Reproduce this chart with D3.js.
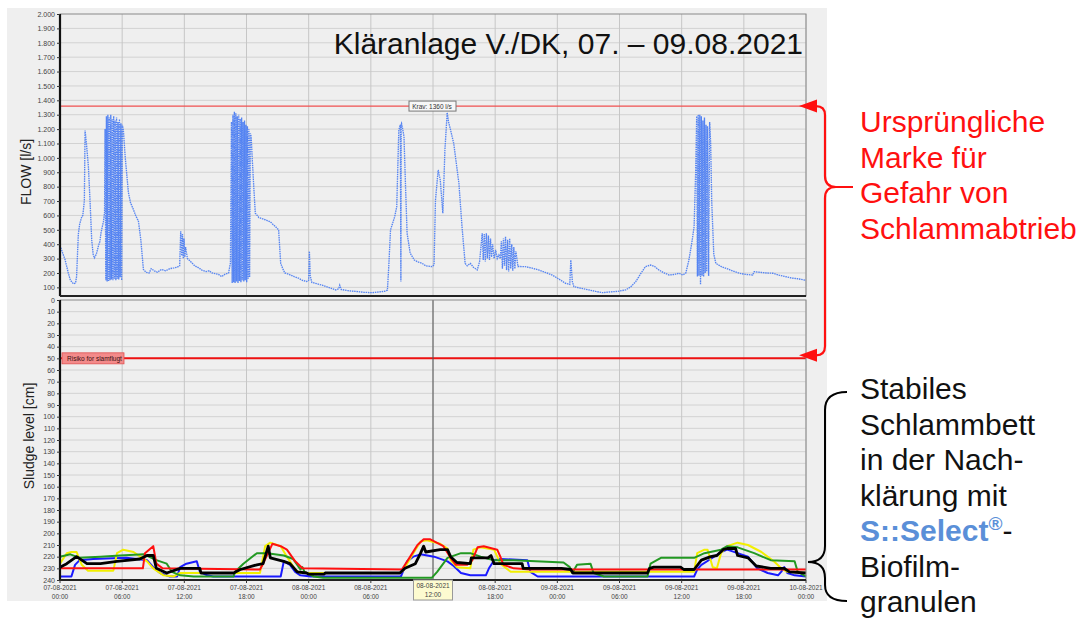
<!DOCTYPE html>
<html>
<head>
<meta charset="utf-8">
<script src="https://cdn.jsdelivr.net/npm/d3@7"></script>
<style>
body { margin:0; background:#fff; }
svg text { font-family: "Liberation Sans", Arial, sans-serif; }
</style>
</head>
<body>
<svg id="chart" width="1079" height="621"></svg>
<script>
// time axis in hours since 07-08-2021 00:00
var hourTicks = [0, 6, 12, 18, 24, 30, 36, 42, 48, 54, 60, 66, 72];
var tickDates = ["07-08-2021","07-08-2021","07-08-2021","07-08-2021","08-08-2021","08-08-2021","08-08-2021",
                 "08-08-2021","09-08-2021","09-08-2021","09-08-2021","09-08-2021","10-08-2021"];
var tickTimes = ["00:00","06:00","12:00","18:00","00:00","06:00","12:00","18:00","00:00","06:00","12:00","18:00","00:00"];

var flowTicks = [100,200,300,400,500,600,700,800,900,1000,1100,1200,1300,1400,1500,1600,1700,1800,1900,2000];
var sludgeTicks = [0,10,20,30,40,50,60,70,80,90,100,110,120,130,140,150,160,170,180,190,200,210,220,230,240];

var kravLevel = 1360;
var risikoLevel = 50;
var cursorHour = 36;

// FLOW [l/s], [hour, value]
var flow = [
 [0.0,390],[0.3,330],[0.5,290],[0.8,200],[1.0,150],[1.3,125],[1.5,130],[1.6,175],[1.77,470],[1.9,540],[2.1,590],[2.2,600],
 [2.35,700],[2.42,1190],[2.55,1100],[2.74,940],[2.9,700],[3.06,430],[3.2,330],[3.32,305],[3.5,330],[3.7,385],[3.85,420],
 [3.96,480],[4.2,560],[4.3,620],
 [4.35,1200],[4.42,150],[4.48,1290],[4.55,140],[4.62,1300],[4.69,145],[4.76,1280],[4.83,150],[4.90,1300],[4.97,155],
 [5.04,1270],[5.11,150],[5.18,1290],[5.25,160],[5.32,1260],[5.39,150],[5.46,1280],[5.53,160],[5.60,1250],[5.67,155],
 [5.74,1270],[5.81,170],[5.88,1240],[5.95,150],[6.02,1230],[6.12,1190],
 [6.3,1000],[6.6,760],[6.8,690],[7.09,640],[7.3,600],[7.57,560],[7.8,430],[8.05,225],[8.3,205],[8.6,200],[8.8,230],
 [9.1,215],[9.4,205],[9.8,225],[10.2,215],[10.6,230],[11.0,235],[11.3,240],[11.55,250],[11.65,490],[11.75,320],
 [11.82,470],[11.9,300],[11.97,440],[12.05,310],[12.12,380],[12.3,300],[12.6,280],[13.0,250],[13.4,235],[13.7,220],
 [14.1,210],[14.4,215],[14.66,200],[15.0,195],[15.3,190],[15.6,175],[15.9,190],[16.27,200],[16.45,270],
 [16.55,1250],[16.62,130],[16.69,1300],[16.76,135],[16.83,1320],[16.9,130],[16.97,1310],[17.04,140],[17.11,1290],
 [17.18,130],[17.25,1300],[17.32,145],[17.39,1270],[17.46,135],[17.53,1280],[17.6,150],[17.67,1250],[17.74,140],
 [17.81,1260],[17.88,150],[17.95,1230],[18.02,135],[18.09,1220],[18.16,160],[18.23,1200],[18.3,170],[18.37,1170],
 [18.45,1150],[18.55,1000],
 [18.7,800],[18.85,615],[19.2,585],[19.8,570],[20.3,555],[20.8,522],[21.1,500],[21.3,267],[21.5,230],[21.7,200],
 [22.1,190],[22.6,175],[23.0,165],[23.36,150],[23.8,140],[24.0,150],[24.07,350],[24.15,180],[24.3,135],[24.8,125],
 [25.3,115],[25.9,100],[26.3,90],[26.6,82],[26.9,90],[27.0,115],[27.15,85],[27.8,77],[28.5,72],[29.3,66],[30.1,63],
 [30.8,68],[31.3,72],[31.6,80],[31.73,244],[31.9,499],[32.1,545],[32.3,590],[32.5,660],[32.7,1193],[32.85,1230],
 [32.9,140],[32.93,1235],[32.96,1240],[33.1,1190],[33.2,1147],[33.35,800],[33.5,476],[33.8,337],[34.2,290],[34.6,275],
 [34.95,267],[35.3,250],[35.9,244],[36.1,255],[36.24,707],[36.5,916],[36.7,846],[36.95,615],[37.15,1055],[37.37,1315],
 [37.5,1250],[37.7,1193],[38.0,1101],[38.5,823],[38.8,522],[39.1,267],[39.3,250],[39.6,267],[39.9,240],[40.27,221],
 [40.5,280],[40.75,476],[40.85,290],[40.95,470],[41.05,280],[41.15,476],[41.25,300],[41.35,460],[41.45,290],[41.55,440],
 [41.65,310],[41.75,400],[41.9,300],[42.05,360],[42.2,300],[42.36,325],[42.5,300],[42.6,420],[42.7,230],[42.8,440],
 [42.9,250],[43.0,453],[43.1,220],[43.2,430],[43.3,210],[43.4,440],[43.5,230],[43.6,400],[43.7,215],[43.8,380],
 [43.9,230],[44.0,350],[44.2,245],[44.9,244],[45.5,235],[46.2,221],[46.8,205],[47.5,186],[48.1,160],[48.8,128],
 [49.2,120],[49.3,290],[49.45,140],[49.6,105],[50.2,95],[51.06,82],[51.7,72],[52.35,63],[53.0,68],[53.8,72],[54.6,82],
 [55.1,105],[55.57,140],[56.0,190],[56.5,244],[57.0,255],[57.4,245],[57.8,221],[58.3,200],[58.8,186],[59.3,190],
 [59.75,198],[60.1,186],[60.4,200],[60.7,290],[61.0,420],[61.2,522],[61.35,900],
 [61.45,1290],[61.52,175],[61.6,1300],[61.67,180],[61.75,1300],[61.82,120],[61.9,1290],[61.97,180],[62.05,1260],
 [62.12,175],[62.2,1280],[62.27,200],[62.35,1230],[62.42,210],[62.5,1220],[62.6,180],[62.7,1250],[62.8,1100],
 [62.9,700],[63.1,330],[63.3,267],[63.8,245],[64.3,232],[64.9,215],[65.55,198],[66.2,190],[66.85,186],[67.0,209],
 [67.5,205],[68.2,200],[68.8,198],[69.4,185],[70.07,174],[70.6,165],[71.2,160],[71.84,151],[72.0,150]
];

// Sludge level [cm], [hour, value]
var sludgeBlack = [[0,229],[0.65,226],[1.6,220],[2.6,226],[3.9,226],[5.5,224],[7.7,222],[8.4,219],[9.0,219],[9.3,230],
 [10.3,234],[11.6,230],[13.5,230],[13.6,234],[16.75,234],[17.4,231],[19.0,227],[19.6,226],[20.1,211],[20.3,221],
 [21.6,224],[22.2,226],[22.9,233],[23.8,234],[24.0,235],[25.5,235],[25.6,234],[32.8,234],[33.3,230],[34.3,226],
 [34.8,217],[35.1,211],[35.3,216],[36.7,214],[37.4,214],[37.7,220],[38.3,225],[39.6,226],[39.7,221],[41.3,221],
 [41.6,219],[41.9,226],[44.6,226],[44.7,230],[48.4,230],[49.3,231],[49.5,234],[56.7,234],[56.9,230],[57.3,229],
 [59.9,229],[60.2,231],[61.2,231],[61.9,223],[62.8,220],[63.4,219],[64.0,214],[64.4,213],[65.2,213],[65.4,219],
 [66.4,221],[67.2,228],[68.6,230],[69.9,230],[70.4,233],[72,234]];
var sludgeRed = [[0,230],[6.4,230],[8.0,230],[8.2,217],[9.0,211],[9.3,226],[9.9,230],[19.3,231],[19.6,226],[20.5,209],
 [21.3,211],[21.9,214],[22.7,224],[23.4,230],[33.0,231],[33.8,220],[34.5,210],[35.1,205],[35.7,205],[37.0,211],
 [37.7,221],[38.2,227],[39.3,227],[39.8,223],[40.3,212],[40.9,211],[42.2,214],[42.5,220],[42.8,227],[43.8,230],
 [45.4,231],[72,231]];
var sludgeGreen = [[0,220],[1.0,218],[1.9,221],[3.9,220],[5.8,219],[8.1,218],[9.3,223],[10.3,226],[10.8,233],[11.6,236],
 [12.9,237],[16.75,237],[16.9,233],[17.7,226],[19.0,217],[20.0,217],[21.6,219],[22.5,222],[23.2,231],[23.4,229],
 [23.6,233],[24.5,237],[25.4,238],[35.9,238],[36.4,233],[37.4,221],[38.7,217],[39.6,217],[40.6,220],[41.9,223],
 [43.8,223],[48.6,225],[49.2,229],[49.45,234],[49.9,227],[51.2,226],[51.5,234],[52.5,237],[56.7,237],[57.0,226],
 [58.0,221],[61.2,221],[62.2,217],[63.8,214],[64.4,211],[65.4,212],[67.0,217],[68.6,223],[70.9,224],[71.2,233],[72,237]];
var sludgeYellow = [[0,226],[0.65,217],[1.1,216],[1.6,216],[2.1,227],[2.7,232],[5.15,232],[5.5,217],[6.1,214],[7.1,216],
 [8.4,224],[9.0,230],[10.0,236],[10.95,237],[11.6,234],[19.3,234],[19.8,211],[20.3,208],[21.3,211],[21.9,220],
 [22.7,231],[23.2,234],[32.8,234],[33.1,232],[34.1,217],[34.8,207],[35.4,206],[36.7,209],[37.4,213],[37.7,223],
 [38.3,229],[39.6,230],[39.9,214],[40.6,212],[41.9,214],[42.5,226],[43.5,233],[61.2,233],[61.5,217],[62.2,214],
 [62.5,214],[63.0,229],[63.4,230],[63.8,217],[64.4,211],[65.4,208],[66.4,210],[67.7,216],[68.9,224],[69.6,230],
 [70.2,233],[72,234]];
var sludgeBlue = [[0,237],[1.1,237],[1.45,227],[1.9,223],[3.2,222],[6.4,221],[8.4,223],[9.0,229],[9.66,234],[10.6,237],
 [11.3,237],[11.6,229],[12.2,226],[13.2,224],[13.5,233],[14.2,236],[14.8,237],[21.3,237],[21.6,224],[22.2,227],
 [22.7,233],[23.2,236],[24.2,237],[32.9,237],[33.5,224],[34.1,220],[34.8,218],[36.1,220],[37.4,224],[38.0,228],
 [38.7,234],[39.6,236],[41.1,236],[41.4,230],[41.9,223],[42.5,222],[45.1,223],[45.4,233],[46.1,237],[61.2,237],
 [61.5,231],[61.9,227],[62.8,222],[63.8,216],[64.4,214],[65.4,217],[66.4,220],[67.3,230],[68.3,234],[69.3,236],
 [69.6,233],[69.9,229],[70.2,234],[70.9,236],[72,237]];

var svg = d3.select("#chart");

var plotLeft = 60, plotRight = 806;
var top1 = 14, bottom1 = 296;
var top2 = 300, bottom2 = 580;

var xScale = d3.scaleLinear().domain([0, 72]).range([plotLeft, plotRight]);
var yFlow = d3.scaleLinear().domain([40, 2000]).range([bottom1, top1]);
var ySludge = d3.scaleLinear().domain([0, 240]).range([top2, bottom2]);

var de = d3.formatLocale({decimal: ",", thousands: ".", grouping: [3], currency: ["", ""]});
var fmt = de.format(",d");

// grey panel behind both charts
svg.append("rect")
    .attr("x", 7).attr("y", 8)
    .attr("width", 820).attr("height", 593)
    .attr("fill", "#efefef");

var drawGrid = function(yScale, yTicks, y0, y1)
{
    var g = svg.append("g");
    g.selectAll(".hgrid")
        .data(yTicks)
        .enter().append("line")
        .attr("x1", plotLeft).attr("x2", plotRight)
        .attr("y1", function(d){ return yScale(d); })
        .attr("y2", function(d){ return yScale(d); })
        .attr("stroke", "#d2d2d2").attr("stroke-width", 1);
    g.selectAll(".vgrid")
        .data(hourTicks)
        .enter().append("line")
        .attr("x1", function(d){ return xScale(d); })
        .attr("x2", function(d){ return xScale(d); })
        .attr("y1", y0).attr("y2", y1)
        .attr("stroke", "#c6c6c6").attr("stroke-width", 1);
    return g;
}

var drawYAxis = function(yScale, yTicks, format)
{
    var ax = svg.append("g")
        .attr("transform", "translate(" + plotLeft + ",0)")
        .call(d3.axisLeft(yScale).tickValues(yTicks).tickSize(3).tickFormat(format));
    ax.select(".domain").remove();
    ax.selectAll("line").attr("stroke", "#333");
    ax.selectAll("text")
        .attr("x", -5)
        .style("font-size", "7px")
        .style("font-family", "Liberation Sans, Arial, sans-serif")
        .attr("fill", "#444");
}

var drawFrame = function(y0, y1)
{
    svg.append("rect")
        .attr("x", plotLeft).attr("y", y0)
        .attr("width", plotRight - plotLeft).attr("height", y1 - y0)
        .attr("fill", "none").attr("stroke", "#8a8a8a").attr("stroke-width", 1);
    svg.append("line")
        .attr("x1", plotLeft).attr("x2", plotLeft)
        .attr("y1", y0).attr("y2", y1)
        .attr("stroke", "#111").attr("stroke-width", 2.2);
    svg.append("line")
        .attr("x1", plotLeft).attr("x2", plotRight)
        .attr("y1", y1).attr("y2", y1)
        .attr("stroke", "#222").attr("stroke-width", 1.8);
}

// ---- top chart: FLOW ----
drawGrid(yFlow, flowTicks.filter(function(d){ return d < 2000; }), top1, bottom1);

svg.append("line")
    .attr("x1", plotLeft).attr("x2", plotRight)
    .attr("y1", yFlow(kravLevel)).attr("y2", yFlow(kravLevel))
    .attr("stroke", "#f05050").attr("stroke-width", 1.3);

var flowLine = d3.line()
    .x(function(d){ return xScale(d[0]); })
    .y(function(d){ return yFlow(d[1]); });

svg.append("path")
    .datum(flow)
    .attr("d", flowLine)
    .attr("fill", "none")
    .attr("stroke", "#5584f2")
    .attr("stroke-width", 1.35)
    .attr("stroke-dasharray", "1.5,0.8");

// Krav label
var kravG = svg.append("g")
    .attr("transform", "translate(" + 432 + "," + yFlow(kravLevel) + ")");
kravG.append("rect")
    .attr("x", -23).attr("y", -5)
    .attr("width", 47).attr("height", 10)
    .attr("fill", "#f7f7f7").attr("stroke", "#777").attr("stroke-width", 1);
kravG.append("text")
    .attr("text-anchor", "middle").attr("y", 2.5)
    .style("font-size", "6.5px").attr("fill", "#333")
    .text("Krav: " + kravLevel + " l/s");

drawFrame(top1, bottom1);
drawYAxis(yFlow, flowTicks, fmt);

svg.append("text")
    .attr("transform", "translate(31,172) rotate(-90)")
    .attr("text-anchor", "middle")
    .style("font-size", "14px").attr("fill", "#222")
    .text("FLOW [l/s]");

svg.append("text")
    .attr("x", 803).attr("y", 54)
    .attr("text-anchor", "end")
    .style("font-size", "30px").attr("fill", "#111")
    .text("Kläranlage V./DK, 07. \u2013 09.08.2021");

// ---- lower chart: sludge level ----
drawGrid(ySludge, sludgeTicks.filter(function(d){ return d > 0 && d < 240; }), top2, bottom2);

svg.append("line")
    .attr("x1", plotLeft).attr("x2", plotRight)
    .attr("y1", ySludge(risikoLevel)).attr("y2", ySludge(risikoLevel))
    .attr("stroke", "#ee1111").attr("stroke-width", 2);

svg.append("rect")
    .attr("x", 62).attr("y", ySludge(risikoLevel) - 5.5)
    .attr("width", 62).attr("height", 11)
    .attr("fill", "#f38a8a").attr("stroke", "#e05050").attr("stroke-width", 0.8);
svg.append("text")
    .attr("x", 67).attr("y", ySludge(risikoLevel) + 2.3)
    .style("font-size", "6.5px").attr("fill", "#3a1010")
    .text("Risiko for slamflugt");

// cursor
svg.append("line")
    .attr("x1", xScale(cursorHour)).attr("x2", xScale(cursorHour))
    .attr("y1", top2).attr("y2", bottom2)
    .attr("stroke", "#555").attr("stroke-width", 1);

var sludgeLine = d3.line()
    .x(function(d){ return xScale(d[0]); })
    .y(function(d){ return ySludge(d[1]); });

var series = [
    {data: sludgeBlue,   color: "#1a1aff", w: 2},
    {data: sludgeYellow, color: "#f2ef00", w: 2},
    {data: sludgeGreen,  color: "#229922", w: 2},
    {data: sludgeRed,    color: "#ff1010", w: 2},
    {data: sludgeBlack,  color: "#000000", w: 2.8}
];

svg.selectAll(".sludge")
    .data(series)
    .enter().append("path")
    .attr("class", "sludge")
    .attr("d", function(s){ return sludgeLine(s.data); })
    .attr("fill", "none")
    .attr("stroke", function(s){ return s.color; })
    .attr("stroke-width", function(s){ return s.w; })
    .attr("stroke-linejoin", "round");

drawFrame(top2, bottom2);
drawYAxis(ySludge, sludgeTicks, d3.format("d"));

svg.append("text")
    .attr("transform", "translate(34,436) rotate(-90)")
    .attr("text-anchor", "middle")
    .style("font-size", "14px").attr("fill", "#222")
    .text("Sludge level [cm]");

// x tick marks + labels
svg.selectAll(".xtick")
    .data(hourTicks)
    .enter().append("line")
    .attr("x1", function(d){ return xScale(d); })
    .attr("x2", function(d){ return xScale(d); })
    .attr("y1", bottom2).attr("y2", bottom2 + 3)
    .attr("stroke", "#333");

var xLab = svg.selectAll(".xlab")
    .data(hourTicks.map(function(h, i){ return {h: h, date: tickDates[i], time: tickTimes[i]}; })
              .filter(function(d){ return d.h != cursorHour; }))
    .enter().append("text")
    .attr("text-anchor", "middle")
    .style("font-size", "6.5px").attr("fill", "#444");
xLab.append("tspan")
    .attr("x", function(d){ return xScale(d.h); }).attr("y", 590)
    .text(function(d){ return d.date; });
xLab.append("tspan")
    .attr("x", function(d){ return xScale(d.h); }).attr("y", 599)
    .text(function(d){ return d.time; });

// highlighted date box under cursor
var ci = hourTicks.indexOf(cursorHour);
svg.append("rect")
    .attr("x", xScale(cursorHour) - 19.5).attr("y", 580)
    .attr("width", 39).attr("height", 20)
    .attr("fill", "#fdfbd0").attr("stroke", "#999").attr("stroke-width", 1);
var cLab = svg.append("text")
    .attr("text-anchor", "middle")
    .style("font-size", "6.5px").attr("fill", "#444");
cLab.append("tspan").attr("x", xScale(cursorHour)).attr("y", 588).text(tickDates[ci]);
cLab.append("tspan").attr("x", xScale(cursorHour)).attr("y", 597).text(tickTimes[ci]);

// ---- annotations right side ----
var redY1 = yFlow(kravLevel), redY2 = ySludge(risikoLevel) - 3;

svg.append("path")
    .attr("d", "M816," + redY1 + " Q825," + redY1 + " 825," + (redY1 + 9) +
               " L825,176 Q825,187 836,187 L853,187 M836,187 Q825,187 825,198" +
               " L825," + (redY2 - 9) + " Q825," + redY2 + " 816," + redY2)
    .attr("fill", "none").attr("stroke", "#ff1010").attr("stroke-width", 2.2);

var arrowHead = function(y)
{
    svg.append("path")
        .attr("d", "M799," + y + " L817," + (y - 6.5) + " L817," + (y + 6.5) + " Z")
        .attr("fill", "#ff1010");
}
arrowHead(redY1);
arrowHead(redY2);

svg.append("path")
    .attr("d", "M847,392 Q825,392 825,410 L825,546 Q825,562 808,562 Q825,562 825,578 L825,585 Q825,601 847,601")
    .attr("fill", "none").attr("stroke", "#000").attr("stroke-width", 2);

var redLines = ["Ursprüngliche", "Marke für", "Gefahr von", "Schlammabtrieb"];
svg.selectAll(".redtxt")
    .data(redLines)
    .enter().append("text")
    .attr("x", 860)
    .attr("y", function(d, i){ return 132 + i * 35.7; })
    .style("font-size", "30px").attr("fill", "#ff1010")
    .text(function(d){ return d; });

var blackLines = ["Stabiles", "Schlammbett", "in der Nach-", "klärung mit", "", "Biofilm-", "granulen"];
svg.selectAll(".blacktxt")
    .data(blackLines)
    .enter().append("text")
    .attr("x", 860)
    .attr("y", function(d, i){ return 399 + i * 35.5; })
    .style("font-size", "30px").attr("fill", "#111")
    .text(function(d){ return d; });

var sel = svg.append("text")
    .attr("x", 860).attr("y", 399 + 4 * 35.5)
    .style("font-size", "30px");
sel.append("tspan").attr("fill", "#5a8fd8").style("font-weight", "bold").text("S::Select");
sel.append("tspan").attr("fill", "#5a8fd8").style("font-weight", "bold").style("font-size", "19px")
    .attr("dy", -11).text("®");
sel.append("tspan").attr("fill", "#111").attr("dy", 11).text("-");
</script>
</body>
</html>
